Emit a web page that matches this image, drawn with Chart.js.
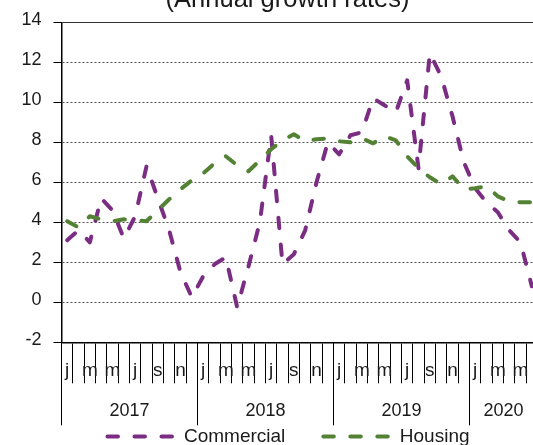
<!DOCTYPE html>
<html>
<head>
<meta charset="utf-8">
<script src="https://cdn.jsdelivr.net/npm/chart.js@4.4.1/dist/chart.umd.min.js"></script>
<style>
html, body { margin: 0; padding: 0; background: #fff; overflow: hidden; width: 533px; height: 445px; }
#wrap { position: absolute; left: 0; top: -15px; width: 540px; height: 471px; }
</style>
</head>
<body>
<div id="wrap"><canvas id="c"></canvas></div>
<script>
// ---- data ----
const years = ['2017', '2018', '2019', '2020'];
const monthsInYear = [12, 12, 12, 6];
const monthLetters = ['j', 'f', 'm', 'a', 'm', 'j', 'j', 'a', 's', 'o', 'n', 'd'];
const yAxisTicks = [-2, 0, 2, 4, 6, 8, 10, 12, 14];

const commercial = [
  3.1, 3.6, 3.0, 5.2, 4.6, 3.2, 4.3, 6.8, 5.2, 3.6, 1.5, 0.25,
  1.3, 1.9, 2.25, -0.25, 1.8, 4.0, 8.35, 1.9, 2.4, 3.6, 6.0, 8.0,
  7.4, 8.35, 8.5, 10.2, 9.85, 9.5, 11.1, 6.7, 12.45, 11.3, 9.3, 7.0,
  5.7, 5.0, 4.5, 3.6, 3.0, 0.8
];
const housing = [
  4.05, 3.75, 4.3, 4.15, 4.05, 4.15, 4.1, 4.05, 4.6, 5.15, 5.65, 6.1,
  6.45, 6.95, 7.3, 6.85, 6.55, 7.1, 7.65, 8.1, 8.4, 8.05, 8.15, 8.2,
  8.05, 8.0, 8.2, 7.95, 8.3, 8.1, 7.3, 6.7, 6.25, 5.9, 6.3, 5.65,
  5.7, 5.8, 5.3, 5.05, 5.0, 5.0
];

// ---- categories built from the arrays ----
const monthCats = [];
const yearCats = [];
const yearLabelAt = [];
years.forEach((y, yi) => {
  for (let m = 0; m < monthsInYear[yi]; m++) {
    monthCats.push(monthLetters[m]);
    yearCats.push(y);
    yearLabelAt.push(m === Math.floor(monthsInYear[yi] / 2) ? y : '');
  }
});
const yearStart = yearCats.map((y, i) => i === 0 || yearCats[i - 1] !== y);
const yMax = yAxisTicks[yAxisTicks.length - 1];

const FONT = 'Liberation Sans';
const PURPLE = '#7B2C83';
const GREEN = '#548235';
const TXT = '#1a1a1a';

new Chart(document.getElementById('c'), {
  type: 'line',
  data: {
    labels: monthCats,
    datasets: [
      {
        label: 'Commercial', data: commercial, borderColor: PURPLE, backgroundColor: PURPLE,
        borderWidth: 4, borderDash: [10.5, 16.5], borderCapStyle: 'round', borderJoinStyle: 'round',
        pointRadius: 0, tension: 0, fill: false, order: 1
      },
      {
        label: 'Housing', data: housing, borderColor: GREEN, backgroundColor: GREEN,
        borderWidth: 4, borderDash: [10.5, 16.5], borderCapStyle: 'round', borderJoinStyle: 'round',
        pointRadius: 0, tension: 0, fill: false, order: 0
      }
    ]
  },
  options: {
    responsive: true,
    maintainAspectRatio: false,
    devicePixelRatio: 1,
    animation: false,
    layout: { padding: { left: 37.5, right: 2.5, top: 0, bottom: 0 } },
    plugins: {
      tooltip: { enabled: false },
      title: {
        display: true,
        text: '(Annual growth rates)',
        color: TXT,
        font: { family: FONT, size: 25.5, weight: 'normal' },
        padding: { top: 0, bottom: 6.7 }
      },
      legend: {
        position: 'bottom',
        labels: {
          color: TXT,
          font: { family: FONT, size: 19 },
          usePointStyle: true,
          pointStyle: 'line',
          pointStyleWidth: 69,
          padding: 36,
          generateLabels(chart) {
            const items = Chart.defaults.plugins.legend.labels.generateLabels(chart);
            items.forEach(it => {
              const ds = chart.data.datasets[it.datasetIndex];
              it.strokeStyle = ds.borderColor;
              it.fillStyle = ds.borderColor;
              it.lineWidth = ds.borderWidth;
              it.lineDash = ds.borderDash;
              it.lineDashOffset = -2;
              it.lineCap = 'round';
              it.pointStyle = 'line';
            });
            items.sort((a, b) => a.datasetIndex - b.datasetIndex);
            return items;
          }
        }
      }
    },
    scales: {
      y: {
        min: -2, max: 14,
        afterBuildTicks(s) { s.ticks = yAxisTicks.map(v => ({ value: v })); },
        afterFit(s) { s.width = 24; },
        grid: {
          color: ctx => (ctx.tick && ctx.tick.value === yMax ? '#333' : '#555'),
          lineWidth: 1, drawTicks: true, tickLength: 8,
          tickColor: '#000', tickWidth: 1
        },
        border: {
          display: true, color: '#000', width: 1.5,
          dash: ctx => (ctx.tick && ctx.tick.value === yMax ? [] : [2, 2])
        },
        ticks: {
          color: TXT, font: { family: FONT, size: 18 },
          mirror: true, crossAlign: 'far', padding: -40, labelOffset: -2
        }
      },
      x: {
        type: 'category',
        position: 'bottom',
        offset: true,
        weight: 0,
        afterFit(s) { s.height = 1; },
        grid: {
          display: true, offset: true, drawOnChartArea: false, drawTicks: true,
          tickLength: 41, color: '#000', tickColor: '#000', lineWidth: 1, tickWidth: 1
        },
        border: { display: true, color: '#000', width: 1.5 },
        ticks: {
          autoSkip: false, maxRotation: 0, minRotation: 0,
          mirror: true, padding: -39.7,
          color: TXT, font: { family: FONT, size: 19 },
          callback(value, index) { return index % 2 === 0 ? this.getLabelForValue(value) : ''; }
        }
      },
      xYear: {
        type: 'category',
        position: 'bottom',
        offset: true,
        weight: 1,
        labels: yearCats,
        afterFit(s) { s.height = 47.7; },
        grid: {
          display: true, offset: true, drawOnChartArea: false, drawTicks: true,
          tickLength: 82, lineWidth: 1, tickWidth: 1,
          color: ctx => (yearStart[ctx.index] ? '#000' : 'rgba(0,0,0,0)'),
          tickColor: ctx => (yearStart[ctx.index] ? '#000' : 'rgba(0,0,0,0)')
        },
        border: { display: false },
        ticks: {
          autoSkip: false, maxRotation: 0, minRotation: 0,
          mirror: true, padding: -78.8,
          labelOffset: -5.67,
          color: TXT, font: { family: FONT, size: 18 },
          callback(value, index) { return yearLabelAt[index]; }
        }
      }
    }
  }
});
</script>
</body>
</html>
